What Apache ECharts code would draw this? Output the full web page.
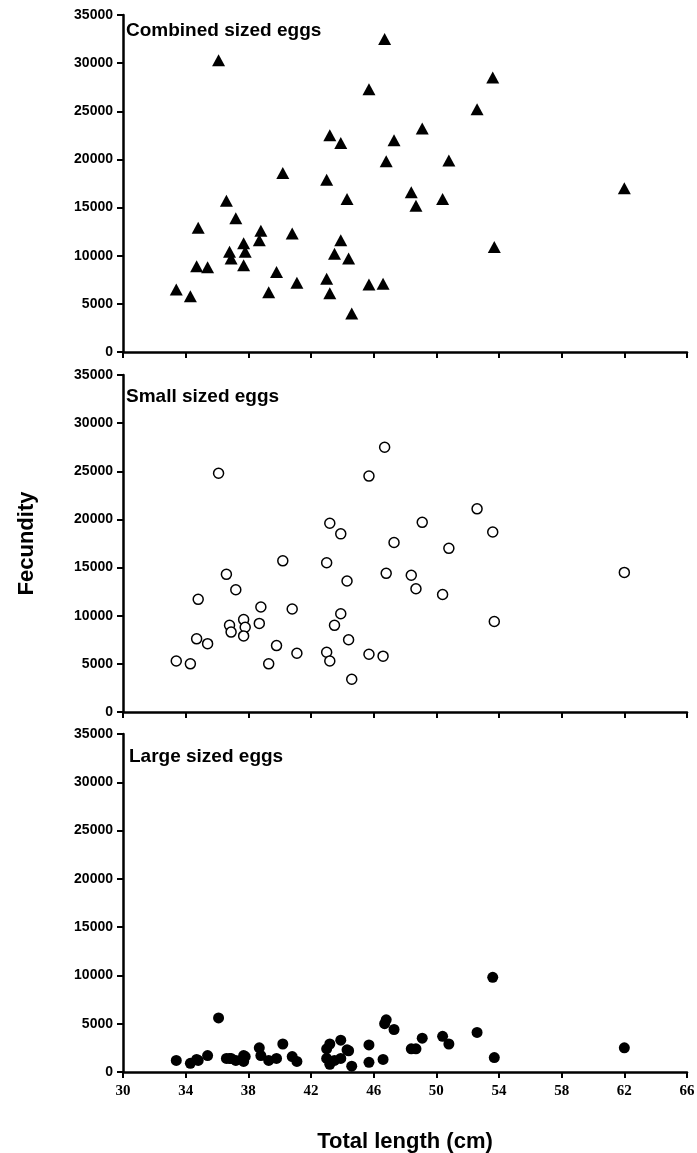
<!DOCTYPE html>
<html>
<head>
<meta charset="utf-8">
<script src="https://cdn.jsdelivr.net/npm/echarts@6/dist/echarts.min.js"></script>
<style>
  html, body { margin: 0; padding: 0; background: #fff; }
  #chart { width: 697px; height: 1153px; }
</style>
</head>
<body>
<div id="chart"></div>
<script>
// total length of each fish (cm)
var lengths = [33.4, 34.3, 34.7, 34.8, 35.4, 36.1, 36.6, 36.8, 36.9, 37.2,
               37.7, 37.8, 37.7, 38.8, 38.7, 39.8, 39.3, 40.2, 40.8, 41.1,
               43.0, 43.2, 43.9, 43.0, 43.2, 43.9, 43.5, 44.4, 44.6, 44.3,
               45.7, 45.7, 46.7, 46.8, 47.3, 46.6, 49.1, 48.4, 48.7, 50.4,
               50.8, 52.6, 53.6, 53.7, 62.0];
// fecundity, all eggs
var combined = [6500, 5800, 8900, 12900, 8800, 30300, 15700, 10400, 9700, 13900,
                11300, 10400, 9000, 12600, 11600, 8300, 6200, 18600, 12300, 7200,
                17900, 22500, 21700, 7600, 6100, 11600, 10200, 9700, 4000, 15900,
                27300, 7000, 32500, 19800, 22000, 7100, 23200, 16600, 15200, 15900,
                19900, 25200, 28500, 10900, 17000];
// fecundity, small eggs
var small = [5300, 5000, 7600, 11700, 7100, 24800, 14300, 9000, 8300, 12700,
             9600, 8800, 7900, 10900, 9200, 6900, 5000, 15700, 10700, 6100,
             15500, 19600, 18500, 6200, 5300, 10200, 9000, 7500, 3400, 13600,
             24500, 6000, 27500, 14400, 17600, 5800, 19700, 14200, 12800, 12200,
             17000, 21100, 18700, 9400, 14500];
// fecundity, large eggs
var large = [1200, 900, 1300, 1200, 1700, 5600, 1400, 1400, 1400, 1200,
             1700, 1600, 1100, 1700, 2500, 1400, 1200, 2900, 1600, 1100,
             2400, 2900, 3300, 1400, 800, 1400, 1200, 2200, 600, 2300,
             2800, 1000, 5000, 5400, 4400, 1300, 3500, 2400, 2400, 3700,
             2900, 4100, 9800, 1500, 2500];

var panelTitles = ['Combined sized eggs', 'Small sized eggs', 'Large sized eggs'];
var xTicks = [30, 66, 4];
var yTicks = [0, 35000, 5000];

function pairs(ys) {
  return lengths.map(function (x, i) { return [x, ys[i]]; });
}

var chart = echarts.init(document.getElementById('chart'));

var grids = [
  { left: 123, right: 10, top: 15, height: 337 },
  { left: 123, right: 10, top: 375, height: 337 },
  { left: 123, right: 10, top: 734, height: 338 }
].map(function (g) {
  g.containLabel = false;
  g.outerBoundsMode = 'none';
  return g;
});

var axisLine = { lineStyle: { color: '#000', width: 2.5 } };
var axisTick = { show: true, inside: false, length: 6, lineStyle: { color: '#000', width: 2 } };

var xAxes = grids.map(function (g, i) {
  var ax = {
    type: 'value', gridIndex: i,
    min: xTicks[0], max: xTicks[1], interval: xTicks[2],
    axisLine: axisLine, axisTick: axisTick,
    splitLine: { show: false },
    axisLabel: {
      show: i === 2, margin: 12,
      color: '#000', fontFamily: 'Liberation Serif', fontWeight: 'bold', fontSize: 15
    }
  };
  if (i === 2) {
    ax.name = 'Total length (cm)';
    ax.nameLocation = 'middle';
    ax.nameGap = 59;
    ax.nameTextStyle = { color: '#000', fontFamily: 'Liberation Sans', fontWeight: 'bold', fontSize: 22 };
  }
  return ax;
});

var yAxes = grids.map(function (g, i) {
  var ax = {
    type: 'value', gridIndex: i,
    min: yTicks[0], max: yTicks[1], interval: yTicks[2],
    axisLine: { show: true, lineStyle: { color: '#000', width: 2.5 } },
    axisTick: axisTick,
    splitLine: { show: false },
    axisLabel: {
      margin: 10, color: '#000',
      fontFamily: 'Liberation Sans', fontWeight: 'bold', fontSize: 14,
      formatter: function (v) { return String(v); }
    }
  };
  if (i === 1) {
    ax.name = 'Fecundity';
    ax.nameLocation = 'middle';
    ax.nameGap = 85;
    ax.nameTextStyle = { color: '#000', fontFamily: 'Liberation Sans', fontWeight: 'bold', fontSize: 22 };
  }
  return ax;
});

var option = {
  backgroundColor: '#fff',
  animation: false,
  title: [
    { text: panelTitles[0], left: 126, top: 21 },
    { text: panelTitles[1], left: 126, top: 387 },
    { text: panelTitles[2], left: 129, top: 747 }
  ].map(function (t) {
    t.textStyle = { color: '#000', fontFamily: 'Liberation Sans', fontWeight: 'bold', fontSize: 19 };
    t.padding = 0;
    return t;
  }),
  grid: grids,
  xAxis: xAxes,
  yAxis: yAxes,
  series: [
    {
      type: 'scatter', xAxisIndex: 0, yAxisIndex: 0,
      symbol: 'triangle', symbolSize: [13, 12],
      itemStyle: { color: '#000', opacity: 1 },
      data: pairs(combined)
    },
    {
      type: 'scatter', xAxisIndex: 1, yAxisIndex: 1,
      symbol: 'circle', symbolSize: 10,
      itemStyle: { color: '#fff', borderColor: '#000', borderWidth: 1.5, opacity: 1 },
      data: pairs(small)
    },
    {
      type: 'scatter', xAxisIndex: 2, yAxisIndex: 2,
      symbol: 'circle', symbolSize: 11,
      itemStyle: { color: '#000', opacity: 1 },
      data: pairs(large)
    }
  ]
};

chart.setOption(option);
</script>
</body>
</html>
